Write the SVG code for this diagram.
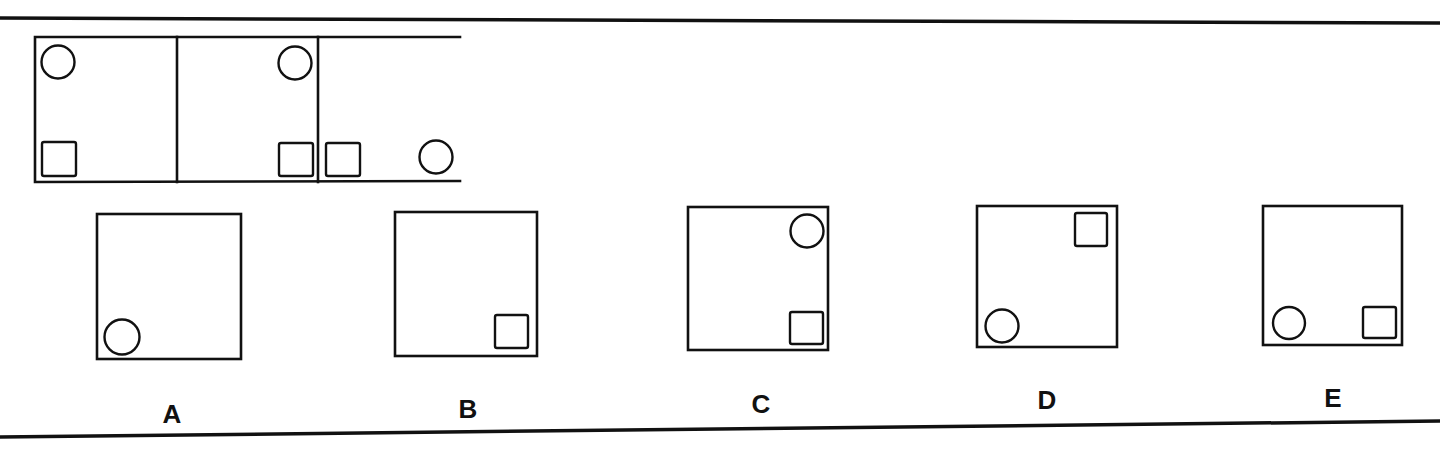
<svg xmlns="http://www.w3.org/2000/svg" width="1440" height="449" viewBox="0 0 1440 449">
<style>
.ln{fill:none;stroke:#111;stroke-width:2.6;stroke-linecap:square}
.bd{fill:none;stroke:#111;stroke-width:3.5}
.sh{fill:none;stroke:#111;stroke-width:2.4}
.lb{font-family:"Liberation Sans",Arial,sans-serif;font-weight:bold;font-size:26px;fill:#111;text-anchor:middle}
</style>
<rect width="1440" height="449" fill="#fff"/>
<g id="border">
<path class="bd" d="M0 18 L1440 23"/>
<path class="bd" d="M0 437 L1440 421"/>
</g>
<g id="sequence">
<path class="ln" d="M460 37 L35 37 L35 182 L460 181"/>
<path class="ln" d="M177 37 L177 182"/>
<path class="ln" d="M318 37 L318 182"/>
<circle class="sh" cx="58" cy="62" r="16.5"/>
<rect class="sh" x="42" y="142" width="34" height="34" rx="2"/>
<circle class="sh" cx="295" cy="63" r="16.5"/>
<rect class="sh" x="279" y="143" width="34" height="33" rx="2"/>
<rect class="sh" x="326" y="143" width="34" height="33" rx="2"/>
<circle class="sh" cx="436" cy="157" r="16.5"/>
</g>
<g id="optA">
<rect class="ln" x="97" y="214" width="144" height="145"/>
<circle class="sh" cx="122" cy="337" r="17.5"/>
<text class="lb" x="172" y="423">A</text>
</g>
<g id="optB">
<rect class="ln" x="395" y="212" width="142" height="144"/>
<rect class="sh" x="495" y="315" width="33" height="33" rx="2"/>
<text class="lb" x="468" y="418">B</text>
</g>
<g id="optC">
<rect class="ln" x="688" y="207" width="140" height="143"/>
<circle class="sh" cx="807" cy="231" r="16.5"/>
<rect class="sh" x="790" y="312" width="33" height="32" rx="2"/>
<text class="lb" x="761" y="413">C</text>
</g>
<g id="optD">
<rect class="ln" x="977" y="206" width="140" height="141"/>
<rect class="sh" x="1075" y="213" width="32" height="33" rx="2"/>
<circle class="sh" cx="1002" cy="326" r="16.5"/>
<text class="lb" x="1047" y="409">D</text>
</g>
<g id="optE">
<rect class="ln" x="1263" y="206" width="139" height="139"/>
<circle class="sh" cx="1289" cy="323" r="16"/>
<rect class="sh" x="1363" y="307" width="33" height="31" rx="2"/>
<text class="lb" x="1333" y="407">E</text>
</g>
<g id="connectors"></g>
</svg>
